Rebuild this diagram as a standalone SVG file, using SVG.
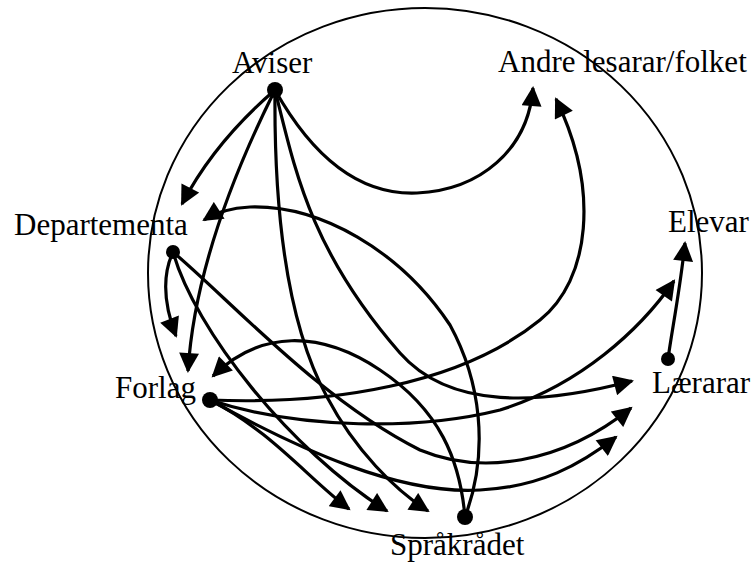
<svg xmlns="http://www.w3.org/2000/svg" width="755" height="562" viewBox="0 0 755 562">
<defs>
<style>
.lbl{font-family:"Liberation Serif","Times New Roman",serif;font-size:31px;fill:#000}
.edge{fill:none;stroke:#000;stroke-width:3.2;stroke-linecap:butt;marker-end:url(#ah)}
.dot{fill:#000}
</style>
<marker id="ah" viewBox="0 0 10 10" refX="9" refY="5" markerWidth="21" markerHeight="20" markerUnits="userSpaceOnUse" orient="auto">
<path d="M0,0 L10,5 L0,10 z" fill="#000"/>
</marker>
</defs>
<rect width="755" height="562" fill="#fff"/>
<ellipse cx="425" cy="273" rx="277" ry="265" fill="none" stroke="#000" stroke-width="2"/>
<g id="connectors">
<path class="edge" d="M275,90 C240,120 205,160 182,204"/>
<path class="edge" d="M275,90 C245,150 195,260 188,371"/>
<path class="edge" d="M275,90 C320,170 370,195 417,193 C480,190 528,150 533,88"/>
<path class="edge" d="M275,90 C274,200 285,320 327,397 C355,450 395,490 428,511"/>
<path class="edge" d="M275,90 C295,170 310,250 400,353 C450,410 540,405 632,381"/>
<path class="edge" d="M173,252 C160,280 166,310 176,336"/>
<path class="edge" d="M173,252 C195,330 290,450 387,511"/>
<path class="edge" d="M173,252 C230,300 320,400 420,450 C480,475 560,465 631,408"/>
<path class="edge" d="M210,400 C330,405 460,385 540,320 C590,280 600,190 556,99"/>
<path class="edge" d="M210,400 C300,430 420,430 500,410 C580,385 640,330 674,281"/>
<path class="edge" d="M210,400 C300,450 400,495 480,490 C540,487 580,465 616,437"/>
<path class="edge" d="M210,400 C270,430 310,480 349,509"/>
<path class="edge" d="M465,517 C490,450 480,380 450,325 C400,250 320,205 250,207 C230,208 215,213 204,220"/>
<path class="edge" d="M465,517 C460,460 440,410 380,370 C320,330 260,330 213,376"/>
<path class="edge" d="M668,359 C672,330 680,290 685,243"/>
</g>
<g id="aviser"><circle class="dot" cx="275" cy="90" r="8"/><text class="lbl" x="232" y="73">Aviser</text></g>
<g id="andre"><text class="lbl" x="498" y="72">Andre lesarar/folket</text></g>
<g id="departementa"><circle class="dot" cx="173" cy="252" r="7"/><text class="lbl" x="14" y="235">Departementa</text></g>
<g id="elevar"><text class="lbl" x="668" y="232">Elevar</text></g>
<g id="forlag"><circle class="dot" cx="210" cy="400" r="8"/><text class="lbl" x="115" y="398">Forlag</text></g>
<g id="laerarar"><circle class="dot" cx="668" cy="359" r="7"/><text class="lbl" x="652" y="393">Lærarar</text></g>
<g id="spraakraadet"><circle class="dot" cx="465" cy="517" r="8"/><text class="lbl" x="390" y="555">Språkrådet</text></g>
</svg>
